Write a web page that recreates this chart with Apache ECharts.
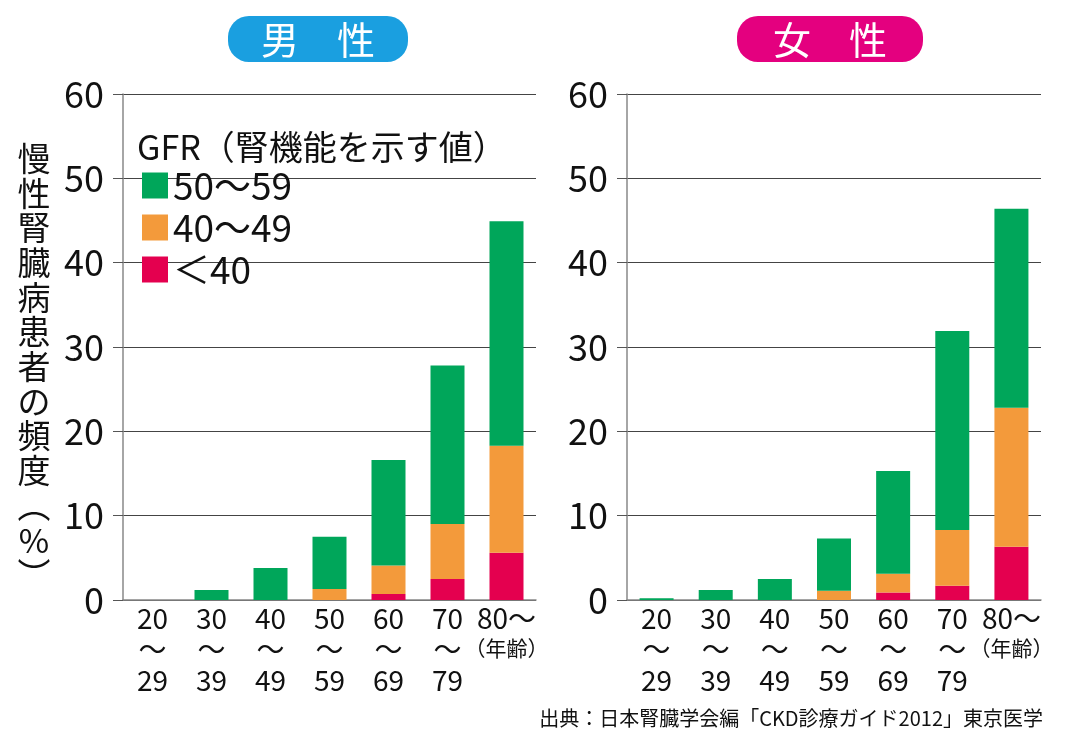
<!DOCTYPE html>
<html><head><meta charset="utf-8">
<script src="https://cdn.jsdelivr.net/npm/echarts@6/dist/echarts.min.js"></script>
<style>html,body{margin:0;padding:0;background:#fff}#c{width:1080px;height:738px}</style>
</head><body><div id="c"></div>
<script>
const categories = ['20〜29','30〜39','40〜49','50〜59','60〜69','70〜79','80〜'];
const ageNote = '（年齢）';
const legendNames = ['50〜59','40〜49','＜40'];
const legendTitle = 'GFR（腎機能を示す値）';
const yAxisName = '慢性腎臓病患者の頻度（%）';
const panelTitles = ['男　性','女　性'];
const sourceText = '出典：日本腎臓学会編「CKD診療ガイド2012」東京医学';
const yTicks = [0,10,20,30,40,50,60];

// segment values (%), stacked bottom→top: <40, 40〜49, 50〜59
const maleLt40      = [0, 0,   0,   0,   0.7, 2.5,  5.6];
const male40to49    = [0, 0,   0,   1.3, 3.4, 6.5, 12.7];
const male50to59    = [0, 1.2, 3.8, 6.2, 12.5,18.8,26.6];
const femaleLt40    = [0, 0,   0,   0,   0.9, 1.7,  6.3];
const female40to49  = [0, 0,   0,   1.1, 2.2, 6.6, 16.5];
const female50to59  = [0.2,1.2,2.5, 6.2, 12.2,23.6,23.6];

const FONT = '"Noto Sans CJK JP", "Noto Sans", sans-serif';
const colors = {'50〜59':'#00a65a','40〜49':'#f39a3b','＜40':'#e4004f'};

const chart = echarts.init(document.getElementById('c'), null, {renderer:'canvas'});

function xAxisCfg(gi){
  return {
    type:'category', gridIndex:gi, data:categories,
    axisLine:{show:true, lineStyle:{color:'#888', width:1.5}},
    axisTick:{show:false},
    axisLabel:{
      interval:0, margin:3, color:'#111', fontFamily:FONT, fontSize:28, lineHeight:31,
      formatter:function(v){
        const parts = v.split('〜');
        if(parts[1]==='') return '{a|'+parts[0]+'〜}\n{b|'+ageNote+'}';
        return parts[0]+'\n〜\n'+parts[1];
      },
      rich:{
        a:{fontFamily:FONT, fontSize:28, lineHeight:31, color:'#111'},
        b:{fontFamily:FONT, fontSize:21, lineHeight:28, color:'#111'}
      }
    }
  };
}
function yAxisCfg(gi){
  return {
    type:'value', gridIndex:gi, min:yTicks[0], max:yTicks[yTicks.length-1], interval:10,
    axisLine:{show:true, lineStyle:{color:'#888', width:1.5}},
    axisTick:{show:true, length:10, lineStyle:{color:'#555', width:1}},
    splitLine:{show:true, lineStyle:{color:'#444', width:1}},
    axisLabel:{margin:19, color:'#111', fontFamily:FONT, fontSize:36}
  };
}
function bar(name, data, gi, stack){
  return {
    name:name, type:'bar', stack:stack, xAxisIndex:gi, yAxisIndex:gi, data:data,
    barWidth:34, itemStyle:{color:colors[name]}, emphasis:{disabled:true}
  };
}

const option = {
  animation:false,
  backgroundColor:'#fff',
  grid:[
    {left:123, top:94, width:413, height:506},
    {left:627, top:94, width:414, height:506}
  ],
  xAxis:[xAxisCfg(0), xAxisCfg(1)],
  yAxis:[yAxisCfg(0), yAxisCfg(1)],
  legend:{
    data:legendNames, orient:'vertical', left:142, top:167, padding:0,
    icon:'rect', itemWidth:26, itemHeight:26, itemGap:5,
    selectedMode:false,
    textStyle:{fontFamily:FONT, fontSize:37, color:'#111'}
  },
  series:[
    bar('＜40', maleLt40, 0, 'm'),
    bar('40〜49', male40to49, 0, 'm'),
    bar('50〜59', male50to59, 0, 'm'),
    bar('＜40', femaleLt40, 1, 'f'),
    bar('40〜49', female40to49, 1, 'f'),
    bar('50〜59', female50to59, 1, 'f')
  ],
  graphic:[
    {type:'rect', shape:{x:228,y:16,width:180,height:46,r:21}, style:{fill:'#1a9fe0'}},
    {type:'text', x:318, y:40, style:{text:panelTitles[0], fill:'#fff', fontFamily:FONT, fontSize:38,
      textAlign:'center', textVerticalAlign:'middle', align:'center', verticalAlign:'middle'}},
    {type:'rect', shape:{x:737,y:16,width:186,height:46,r:21}, style:{fill:'#e4007f'}},
    {type:'text', x:830, y:40, style:{text:panelTitles[1], fill:'#fff', fontFamily:FONT, fontSize:38,
      textAlign:'center', textVerticalAlign:'middle', align:'center', verticalAlign:'middle'}},
    {type:'text', x:137, y:147, style:{text:legendTitle, fill:'#111', fontFamily:FONT, fontSize:34,
      textAlign:'left', textVerticalAlign:'middle', align:'left', verticalAlign:'middle'}},
    {type:'text', x:34, y:141, style:{
      text: yAxisName.replace('（','︵').replace('）','︶').split('').join('\n'),
      fill:'#111', fontFamily:FONT, fontSize:33, lineHeight:34.7,
      textAlign:'center', textVerticalAlign:'top', align:'center', verticalAlign:'top'}},
    {type:'text', x:1043, y:718, style:{text:sourceText, fill:'#111', fontFamily:FONT, fontSize:20,
      textAlign:'right', textVerticalAlign:'middle', align:'right', verticalAlign:'middle'}}
  ]
};
chart.setOption(option);
</script>
</body></html>
